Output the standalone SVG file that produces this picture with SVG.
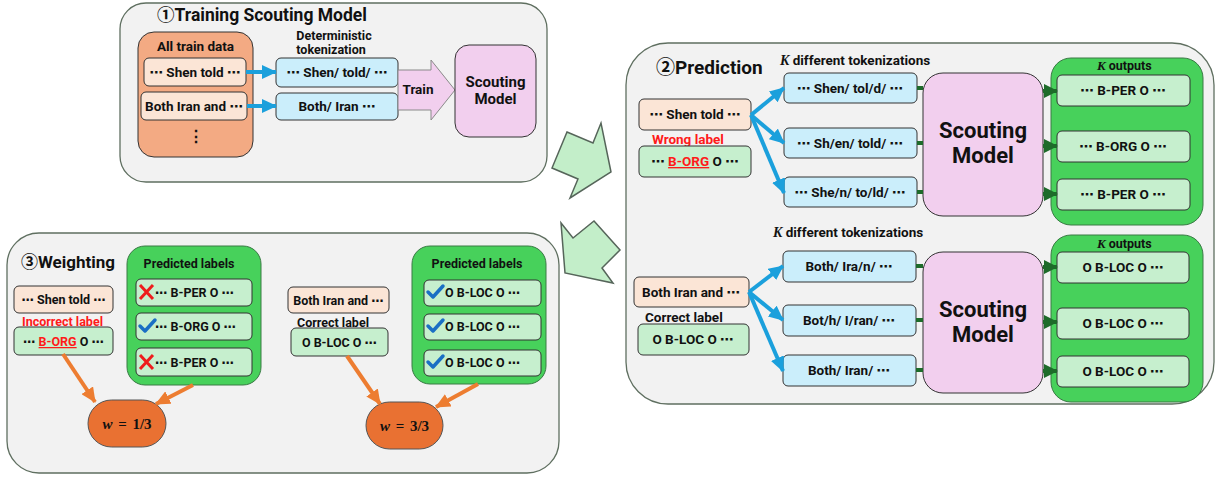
<svg xmlns="http://www.w3.org/2000/svg" width="1217" height="479" viewBox="0 0 1217 479">
<style>
text{font-family:Roboto,"Noto Sans CJK JP",sans-serif;font-weight:bold;fill:#111}
.e{font-family:"DejaVu Sans",sans-serif;font-weight:bold}
.sec{fill:#f2f2f2;stroke:#5f6f60;stroke-width:1.3}
.b{stroke:#333;stroke-width:1}
.peach{fill:#fbe5d6}
.blue{fill:#cbeefb}
.pink{fill:#f2cfee}
.lg{fill:#c6efce}
.gc{fill:#47d15b;stroke:#3a7a45;stroke-width:1}
.t13{font-size:13.5px}
.t12{font-size:12.5px}
.red{fill:#ff1a1a}
.math{font-family:"Liberation Serif",serif;font-weight:bold}
.blueln{stroke:#1ba0dc;stroke-width:4;fill:none}
.grnln{stroke:#1e6b2a;stroke-width:4;fill:none}
.orln{stroke:#ed7d31;stroke-width:4;fill:none}
.bigarrow{fill:#c3eec9;stroke:#56655a;stroke-width:1.5}
.chk{fill:none;stroke:#1a6fc4;stroke-width:3.5;stroke-linecap:round;stroke-linejoin:round}
.xm{stroke:#ee1c1c;stroke-width:3}
</style>
<defs>
<marker id="ab" markerUnits="userSpaceOnUse" markerWidth="16" markerHeight="14" refX="14" refY="7" orient="auto"><path d="M0,0 L15,7 L0,14 Z" fill="#1ba0dc"/></marker>
<marker id="ag" markerUnits="userSpaceOnUse" markerWidth="14" markerHeight="14" refX="13" refY="7" orient="auto"><path d="M0,0 L14,7 L0,14 Z" fill="#1e6b2a"/></marker>
<marker id="ao" markerUnits="userSpaceOnUse" markerWidth="16" markerHeight="14" refX="14" refY="7" orient="auto"><path d="M0,0 L15,7 L0,14 Z" fill="#ed7d31"/></marker>
</defs>

<!-- Section 1 -->
<g id="section1">
<rect class="sec" x="120" y="3" width="427" height="179" rx="26"/>
<text x="157" y="21" style="font-size:17.5px">①Training Scouting Model</text>
</g>
<g id="all-train-data">
<rect x="138" y="32" width="115" height="125" rx="16" fill="#f3aa83" class="b"/>
<text class="t13" x="195.5" y="51" text-anchor="middle">All train data</text>
<text x="195.5" y="142" text-anchor="middle" style="font-size:16px">⋮</text>
</g>
<g id="s1-shen">
<rect class="peach b" x="144" y="58" width="102" height="28" rx="5"/>
<text class="t13" x="195" y="77" text-anchor="middle"><tspan class="e">⋯</tspan> Shen told <tspan class="e">⋯</tspan></text>
</g>
<g id="s1-both">
<rect class="peach b" x="141" y="92" width="106" height="28" rx="5"/>
<text class="t13" x="194" y="111" text-anchor="middle">Both Iran and <tspan class="e">⋯</tspan></text>
</g>
<g id="s1-det-label">
<text class="t12" x="334" y="40" text-anchor="middle">Deterministic</text>
<text class="t12" x="331" y="54" text-anchor="middle">tokenization</text>
</g>
<g id="s1-tok1">
<rect class="blue b" x="276" y="58" width="122" height="29" rx="5"/>
<text class="t13" x="337" y="77" text-anchor="middle"><tspan class="e">⋯</tspan> Shen/ told/ <tspan class="e">⋯</tspan></text>
</g>
<g id="s1-tok2">
<rect class="blue b" x="276" y="93" width="122" height="27" rx="5"/>
<text class="t13" x="337" y="111" text-anchor="middle">Both/ Iran <tspan class="e">⋯</tspan></text>
</g>
<g id="s1-train">
<path d="M398,70 L431,70 L431,60 L455,90 L431,120 L431,110 L398,110 Z" fill="#f2cfee" stroke="#8a8a8a" stroke-width="1"/>
<text class="t13" x="418" y="94" text-anchor="middle">Train</text>
</g>
<g id="s1-scouting">
<rect class="pink b" x="455" y="45" width="81" height="92" rx="14"/>
<text x="495.5" y="87" text-anchor="middle" style="font-size:15px">Scouting</text>
<text x="495.5" y="104" text-anchor="middle" style="font-size:15px">Model</text>
</g>

<!-- Section 2 -->
<g id="section2">
<rect class="sec" x="626" y="43" width="588" height="361" rx="42"/>
<text x="656" y="74" style="font-size:19px">②Prediction</text>
<text x="780" y="65" style="font-size:13.5px"><tspan class="math" font-style="italic" style="font-size:14px">K</tspan> different tokenizations</text>
<text x="773" y="237" style="font-size:13.5px"><tspan class="math" font-style="italic" style="font-size:14px">K</tspan> different tokenizations</text>
</g>
<g id="p-shen">
<rect class="peach b" x="639" y="99" width="112" height="31" rx="5"/>
<text class="t13" x="695" y="119" text-anchor="middle"><tspan class="e">⋯</tspan> Shen told <tspan class="e">⋯</tspan></text>
</g>
<g id="p-wrong">
<text class="t13 red" x="652" y="144">Wrong label</text>
<rect class="lg b" x="639" y="146" width="112" height="31" rx="5"/>
<text class="t13" x="695" y="166" text-anchor="middle"><tspan class="e">⋯</tspan> <tspan class="red" text-decoration="underline">B-ORG</tspan> O <tspan class="e">⋯</tspan></text>
</g>
<g id="p-tok1">
<rect class="blue b" x="784" y="73" width="133" height="30" rx="5"/>
<text class="t13" x="850" y="93" text-anchor="middle"><tspan class="e">⋯</tspan> Shen/ tol/d/ <tspan class="e">⋯</tspan></text>
</g>
<g id="p-tok2">
<rect class="blue b" x="784" y="128" width="133" height="30" rx="5"/>
<text class="t13" x="850" y="148" text-anchor="middle"><tspan class="e">⋯</tspan> Sh/en/ told/ <tspan class="e">⋯</tspan></text>
</g>
<g id="p-tok3">
<rect class="blue b" x="784" y="177" width="133" height="30" rx="5"/>
<text class="t13" x="850" y="197" text-anchor="middle"><tspan class="e">⋯</tspan> She/n/ to/ld/ <tspan class="e">⋯</tspan></text>
</g>
<g id="p-scout1">
<rect class="pink b" x="923" y="73" width="120" height="143" rx="20"/>
<text x="983" y="138" text-anchor="middle" style="font-size:22px">Scouting</text>
<text x="983" y="163" text-anchor="middle" style="font-size:22px">Model</text>
</g>
<g id="p-out1">
<rect class="gc" x="1051" y="58" width="152" height="167" rx="20"/>
<text x="1097" y="70" style="font-size:12.5px"><tspan class="math" font-style="italic" style="font-size:13px">K</tspan> outputs</text>
<rect class="lg b" x="1057" y="75" width="133" height="31" rx="5"/>
<text class="t13" x="1123" y="95" text-anchor="middle"><tspan class="e">⋯</tspan> B-PER O <tspan class="e">⋯</tspan></text>
<rect class="lg b" x="1057" y="131" width="133" height="31" rx="5"/>
<text class="t13" x="1123" y="151" text-anchor="middle"><tspan class="e">⋯</tspan> B-ORG O <tspan class="e">⋯</tspan></text>
<rect class="lg b" x="1057" y="179" width="133" height="31" rx="5"/>
<text class="t13" x="1123" y="199" text-anchor="middle"><tspan class="e">⋯</tspan> B-PER O <tspan class="e">⋯</tspan></text>
</g>

<g id="p-both">
<rect class="peach b" x="634" y="277" width="115" height="30" rx="5"/>
<text class="t13" x="691" y="297" text-anchor="middle">Both Iran and <tspan class="e">⋯</tspan></text>
</g>
<g id="p-correct">
<text class="t13" x="645" y="322">Correct label</text>
<rect class="lg b" x="638" y="324" width="111" height="31" rx="5"/>
<text class="t13" x="693" y="344" text-anchor="middle">O B-LOC O <tspan class="e">⋯</tspan></text>
</g>
<g id="p-tok4">
<rect class="blue b" x="783" y="251" width="133" height="31" rx="5"/>
<text class="t13" x="849" y="271" text-anchor="middle">Both/ Ira/n/ <tspan class="e">⋯</tspan></text>
</g>
<g id="p-tok5">
<rect class="blue b" x="783" y="305" width="133" height="31" rx="5"/>
<text class="t13" x="849" y="325" text-anchor="middle">Bot/h/ I/ran/ <tspan class="e">⋯</tspan></text>
</g>
<g id="p-tok6">
<rect class="blue b" x="783" y="355" width="133" height="31" rx="5"/>
<text class="t13" x="849" y="375" text-anchor="middle">Both/ Iran/ <tspan class="e">⋯</tspan></text>
</g>
<g id="p-scout2">
<rect class="pink b" x="923" y="252" width="120" height="141" rx="20"/>
<text x="983" y="317" text-anchor="middle" style="font-size:22px">Scouting</text>
<text x="983" y="342" text-anchor="middle" style="font-size:22px">Model</text>
</g>
<g id="p-out2">
<rect class="gc" x="1051" y="235" width="152" height="167" rx="20"/>
<text x="1097" y="248" style="font-size:12.5px"><tspan class="math" font-style="italic" style="font-size:13px">K</tspan> outputs</text>
<rect class="lg b" x="1057" y="252" width="132" height="31" rx="5"/>
<text class="t13" x="1123" y="272" text-anchor="middle">O B-LOC O <tspan class="e">⋯</tspan></text>
<rect class="lg b" x="1057" y="308" width="132" height="31" rx="5"/>
<text class="t13" x="1123" y="328" text-anchor="middle">O B-LOC O <tspan class="e">⋯</tspan></text>
<rect class="lg b" x="1057" y="356" width="132" height="31" rx="5"/>
<text class="t13" x="1123" y="376" text-anchor="middle">O B-LOC O <tspan class="e">⋯</tspan></text>
</g>

<!-- Section 3 -->
<g id="section3">
<rect class="sec" x="7" y="233" width="552" height="240" rx="32"/>
<text x="21" y="268" style="font-size:17px">③Weighting</text>
</g>
<g id="w-shen">
<rect class="peach b" x="14" y="286" width="99" height="27" rx="5"/>
<text class="t12" x="63.5" y="304" text-anchor="middle"><tspan class="e">⋯</tspan> Shen told <tspan class="e">⋯</tspan></text>
</g>
<g id="w-incorrect">
<text class="t12 red" x="22" y="326">Incorrect label</text>
<rect class="lg b" x="14" y="327" width="99" height="28" rx="5"/>
<text class="t12" x="63.5" y="346" text-anchor="middle"><tspan class="e">⋯</tspan> <tspan class="red" text-decoration="underline">B-ORG</tspan> O <tspan class="e">⋯</tspan></text>
</g>
<g id="w-pred1">
<rect class="gc" x="127" y="246" width="134" height="139" rx="18"/>
<text class="t12" x="189" y="268" text-anchor="middle">Predicted labels</text>
<rect class="lg b" x="136" y="279" width="116" height="27" rx="5"/>
<path class="xm" d="M140,285 L153,299 M153,285 L140,299"/>
<text class="t12" x="155" y="297"><tspan class="e">⋯</tspan> B-PER O <tspan class="e">⋯</tspan></text>
<rect class="lg b" x="136" y="313" width="116" height="27" rx="5"/>
<path class="chk" d="M140,326 L145,331 L155,320"/>
<text class="t12" x="155" y="331"><tspan class="e">⋯</tspan> B-ORG O <tspan class="e">⋯</tspan></text>
<rect class="lg b" x="136" y="348" width="116" height="28" rx="5"/>
<path class="xm" d="M140,355 L153,369 M153,355 L140,369"/>
<text class="t12" x="155" y="367"><tspan class="e">⋯</tspan> B-PER O <tspan class="e">⋯</tspan></text>
</g>
<g id="w-weight1">
<rect x="88" y="400" width="78" height="47" rx="23.5" fill="#e97132" stroke="#555" stroke-width="1"/>
<text class="math" x="127" y="429" text-anchor="middle" style="font-size:15px"><tspan font-style="italic">w</tspan> <tspan dx="2">=</tspan> <tspan dx="2">1/3</tspan></text>
</g>
<g id="w-both">
<rect class="peach b" x="288" y="287" width="101" height="26" rx="5"/>
<text class="t12" x="338.5" y="305" text-anchor="middle">Both Iran and <tspan class="e">⋯</tspan></text>
</g>
<g id="w-correct">
<text class="t12" x="297" y="327">Correct label</text>
<rect class="lg b" x="291" y="328" width="97" height="28" rx="5"/>
<text class="t12" x="339.5" y="347" text-anchor="middle">O B-LOC O <tspan class="e">⋯</tspan></text>
</g>
<g id="w-pred2">
<rect class="gc" x="412" y="246" width="134" height="138" rx="18"/>
<text class="t12" x="477" y="268" text-anchor="middle">Predicted labels</text>
<rect class="lg b" x="424" y="280" width="117" height="26" rx="5"/>
<path class="chk" d="M428,292 L433,297 L443,286"/>
<text class="t12" x="445" y="297">O B-LOC O <tspan class="e">⋯</tspan></text>
<rect class="lg b" x="424" y="314" width="117" height="26" rx="5"/>
<path class="chk" d="M428,326 L433,331 L443,320"/>
<text class="t12" x="445" y="331">O B-LOC O <tspan class="e">⋯</tspan></text>
<rect class="lg b" x="424" y="350" width="117" height="26" rx="5"/>
<path class="chk" d="M428,362 L433,367 L443,356"/>
<text class="t12" x="445" y="367">O B-LOC O <tspan class="e">⋯</tspan></text>
</g>
<g id="w-weight2">
<rect x="366" y="402" width="77" height="47" rx="23.5" fill="#e97132" stroke="#555" stroke-width="1"/>
<text class="math" x="404.5" y="431" text-anchor="middle" style="font-size:15px"><tspan font-style="italic">w</tspan> <tspan dx="2">=</tspan> <tspan dx="2">3/3</tspan></text>
</g>

<!-- big arrows -->
<g id="flow-arrows">
<path class="bigarrow" d="M567,132 L593,143 L601,123 L611,172 L570,198 L578,179 L552,168 Z"/>
<path class="bigarrow" d="M594,221 L620,250 L602,268 L613,283 L565,273 L561,223 L573,238 Z"/>
</g>

<!-- connectors -->
<g id="connectors">
<line class="blueln" x1="246" y1="72" x2="276" y2="72" marker-end="url(#ab)"/>
<line class="blueln" x1="247" y1="106" x2="276" y2="106" marker-end="url(#ab)"/>
<line class="blueln" x1="751" y1="115" x2="784" y2="88" marker-end="url(#ab)"/>
<line class="blueln" x1="751" y1="115" x2="784" y2="143" marker-end="url(#ab)"/>
<line class="blueln" x1="751" y1="115" x2="784" y2="193" marker-end="url(#ab)"/>
<line class="blueln" x1="749" y1="292" x2="783" y2="266" marker-end="url(#ab)"/>
<line class="blueln" x1="749" y1="292" x2="783" y2="320" marker-end="url(#ab)"/>
<line class="blueln" x1="749" y1="292" x2="783" y2="371" marker-end="url(#ab)"/>
<line class="grnln" x1="917" y1="88" x2="923" y2="88"/>
<line class="grnln" x1="917" y1="143" x2="923" y2="143"/>
<line class="grnln" x1="917" y1="192" x2="923" y2="192"/>
<line class="grnln" x1="916" y1="266" x2="923" y2="266"/>
<line class="grnln" x1="916" y1="320" x2="923" y2="320"/>
<line class="grnln" x1="916" y1="370" x2="923" y2="370"/>
<line class="grnln" x1="1043" y1="91" x2="1057" y2="91" marker-end="url(#ag)"/>
<line class="grnln" x1="1043" y1="146" x2="1057" y2="146" marker-end="url(#ag)"/>
<line class="grnln" x1="1043" y1="194" x2="1057" y2="194" marker-end="url(#ag)"/>
<line class="grnln" x1="1043" y1="267" x2="1057" y2="267" marker-end="url(#ag)"/>
<line class="grnln" x1="1043" y1="322" x2="1057" y2="322" marker-end="url(#ag)"/>
<line class="grnln" x1="1043" y1="371" x2="1057" y2="371" marker-end="url(#ag)"/>
<line class="orln" x1="63" y1="354" x2="95" y2="402" marker-end="url(#ao)"/>
<line class="orln" x1="193" y1="385" x2="156" y2="404" marker-end="url(#ao)"/>
<line class="orln" x1="347" y1="356" x2="380" y2="404" marker-end="url(#ao)"/>
<line class="orln" x1="478" y1="384" x2="436" y2="407" marker-end="url(#ao)"/>
</g>
</svg>
